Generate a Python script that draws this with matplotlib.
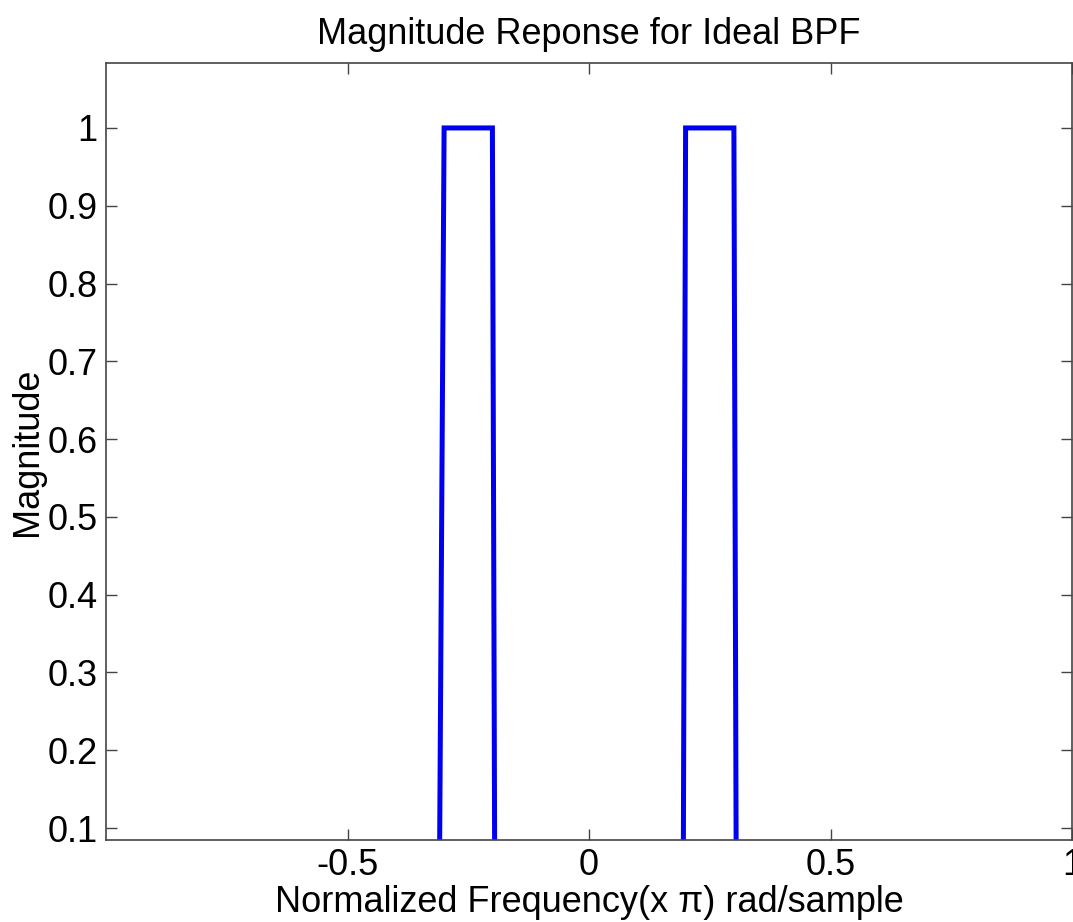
"""
Magnitude response of an ideal band-pass filter (MATLAB-style figure)
"""

import numpy as np
import matplotlib
matplotlib.use('Agg')
import matplotlib.pyplot as plt

# Frequency points (x pi rad/sample) and magnitude of the ideal BPF
freq = [-1.0, -0.31, -0.30, -0.20, -0.195, 0.195, 0.20, 0.30, 0.305, 1.0]
mag = [0, 0, 1, 1, 0, 0, 1, 1, 0, 0]

x_ticks = [-0.5, 0, 0.5, 1]
x_tick_labels = ['-0.5', '0', '0.5', '1']
y_ticks = [0.1, 0.2, 0.3, 0.4, 0.5, 0.6, 0.7, 0.8, 0.9, 1.0]
y_tick_labels = ['0.1', '0.2', '0.3', '0.4', '0.5', '0.6', '0.7', '0.8', '0.9', '1']

plt.rcParams['font.family'] = ['Liberation Sans', 'DejaVu Sans']

fig = plt.figure(figsize=(10.73, 9.22), dpi=100)
ax = fig.add_axes([106 / 1073, 1 - 840 / 922, 966 / 1073, (840 - 63) / 922])

ax.plot(freq, mag, color='#0000f0', linewidth=3.6, solid_joinstyle='miter')

ax.set_xlim(-1, 1)
ax.set_ylim(0.0846, 1.0835)
ax.set_xticks(x_ticks)
ax.set_xticklabels(x_tick_labels)
ax.set_yticks(y_ticks)
ax.set_yticklabels(y_tick_labels)

ax.tick_params(direction='in', top=True, right=True, length=8, width=1,
               color='#444444', labelsize=26, pad=6)
for spine in ax.spines.values():
    spine.set_color('#444444')
    spine.set_linewidth(1.2)

ax.set_title('Magnitude Reponse for Ideal BPF', fontsize=26, pad=14)
ax.set_xlabel('Normalized Frequency(x π) rad/sample', fontsize=26, labelpad=1)
ax.set_ylabel('Magnitude', fontsize=26, labelpad=2)

fig.savefig('out.png', dpi=100, facecolor='white')
